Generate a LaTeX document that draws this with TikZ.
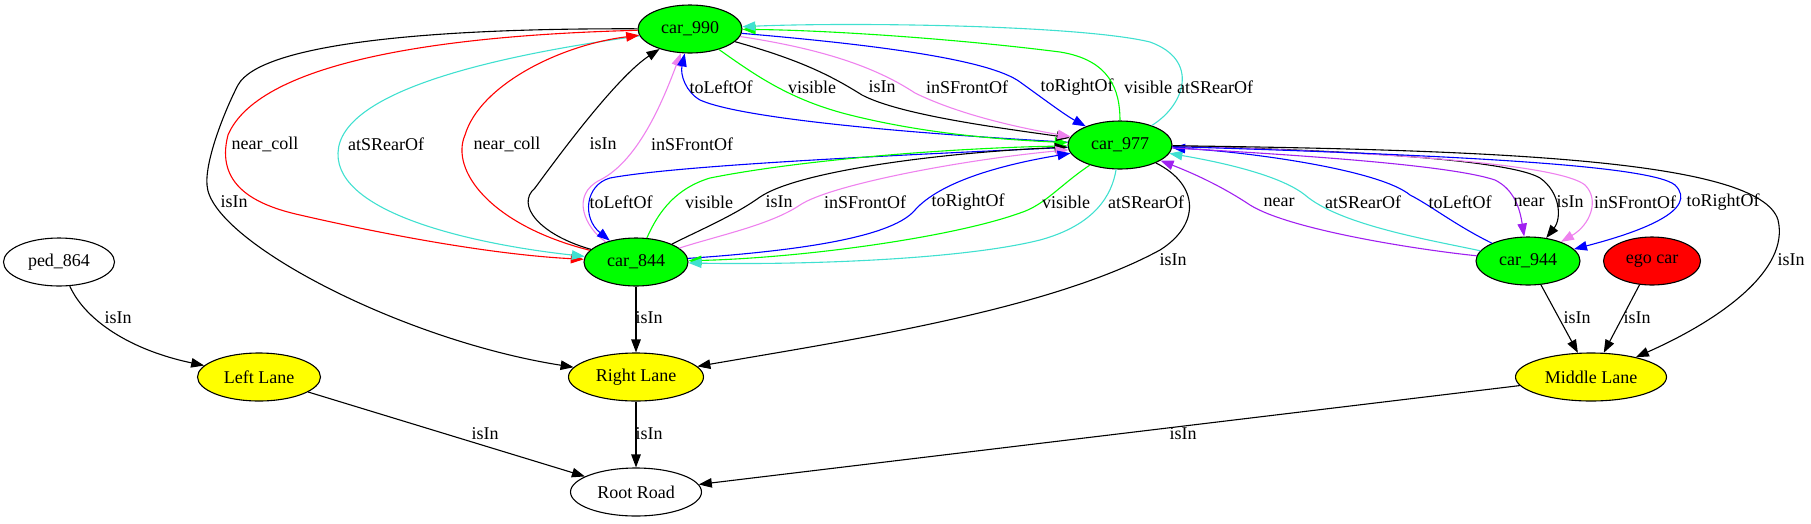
\documentclass[tikz,border=0pt]{standalone}
\usepackage{fontspec}
\setmainfont{Liberation Serif}
\usetikzlibrary{shapes.geometric, arrows.meta}
\definecolor{cargreen}{HTML}{00FF00}
\definecolor{laneyellow}{HTML}{FFFF00}
\definecolor{egored}{HTML}{FF0000}
\definecolor{relred}{HTML}{FF0000}
\definecolor{relblue}{HTML}{0000FF}
\definecolor{relgreen}{HTML}{00FF00}
\definecolor{relviolet}{HTML}{EE82EE}
\definecolor{relturq}{HTML}{40E0D0}
\definecolor{relpurple}{HTML}{A020F0}

\tikzset{
  obj/.style={ellipse, draw, line width=1.1pt, inner sep=0pt, minimum height=48pt,
    font=\fontsize{18}{20}\selectfont},
  car/.style={obj, fill=cargreen, minimum width=104pt},
  lane/.style={obj, fill=laneyellow},
  rel/.style={-{Triangle[length=13pt,width=9.5pt]}, line width=1.1pt},
  lbl/.style={inner sep=0pt, font=\fontsize{18}{20}\selectfont},
}

\begin{document}
\begin{tikzpicture}[x=1pt, y=-1pt]
  \useasboundingbox (0,0) rectangle (1811,523);

  % objects
  \node[car] (car990) at (690,29) {car\_990};
  \node[car] (car977) at (1120,145) {car\_977};
  \node[car] (car844) at (636,262) {car\_844};
  \node[car] (car944) at (1528,261) {car\_944};
  \node[obj, fill=egored, minimum width=97pt] (egocar) at (1652,261) {ego car};
  \node[obj, minimum width=111pt] (ped864) at (59,262) {ped\_864};
  \node[lane, minimum width=123pt] (leftlane) at (259,377) {Left Lane};
  \node[lane, minimum width=135pt] (rightlane) at (636,377) {Right Lane};
  \node[lane, minimum width=151pt] (middlelane) at (1591,377) {Middle Lane};
  \node[obj, minimum width=131pt] (rootroad) at (636,492) {Root Road};

  % car_990 <-> car_844
  \draw[rel] (car990) .. controls (420,28) and (260,45) .. (238,85) .. controls (225,110) and (205,160) .. (207,185) .. controls (210,240) and (400,340) .. (rightlane) node[lbl, at={(234,202)}] {isIn};
  \draw[rel, relred] (car990) .. controls (450,35) and (260,60) .. (228,135) .. controls (215,185) and (255,205) .. (300,215) .. controls (400,238) and (500,255) .. (car844) node[lbl, text=black, at={(265,144)}] {near\_coll};
  \draw[rel, relturq] (car990) .. controls (500,55) and (340,90) .. (338,153) .. controls (336,215) and (480,245) .. (car844) node[lbl, text=black, at={(386,144)}] {atSRearOf};
  \draw[rel, relred] (car844) .. controls (490,225) and (450,170) .. (465,135) .. controls (480,85) and (560,45) .. (car990) node[lbl, text=black, at={(507,144)}] {near\_coll};
  \draw[rel] (car844) .. controls (540,235) and (515,205) .. (535,188) .. controls (570,140) and (620,75) .. (car990) node[lbl, at={(603,144)}] {isIn};
  \draw[rel, relviolet] (car844) .. controls (585,228) and (570,195) .. (600,180) .. controls (640,160) and (665,95) .. (car990) node[lbl, text=black, at={(692,144)}] {inSFrontOf};

  % car_990 <-> car_977
  \draw[rel, relblue] (car977) .. controls (900,133) and (740,118) .. (700,100) .. controls (686,92) and (680,75) .. (car990) node[lbl, text=black, at={(721,87)}] {toLeftOf};
  \draw[rel, relgreen] (car990) .. controls (755,75) and (790,100) .. (850,115) .. controls (930,135) and (1010,140) .. (car977) node[lbl, text=black, at={(812,87)}] {visible};
  \draw[rel] (car990) .. controls (800,60) and (830,75) .. (862,95) .. controls (900,115) and (1000,128) .. (car977) node[lbl, at={(882,87)}] {isIn};
  \draw[rel, relviolet] (car990) .. controls (830,50) and (880,70) .. (915,93) .. controls (960,115) and (1020,128) .. (car977) node[lbl, text=black, at={(967,87)}] {inSFrontOf};
  \draw[rel, relblue] (car990) .. controls (880,45) and (990,60) .. (1020,82) .. controls (1045,100) and (1065,115) .. (car977) node[lbl, text=black, at={(1077,87)}] {toRightOf};
  \draw[rel, relgreen] (car977) .. controls (1120,90) and (1110,60) .. (1060,52) .. controls (950,38) and (820,30) .. (car990) node[lbl, text=black, at={(1148,87)}] {visible};
  \draw[rel, relturq] (car977) .. controls (1185,105) and (1200,60) .. (1150,42) .. controls (1080,25) and (850,22) .. (car990) node[lbl, text=black, at={(1215,87)}] {atSRearOf};

  % car_844 <-> car_977
  \draw[rel, relblue] (car977) .. controls (900,155) and (680,165) .. (610,178) .. controls (585,185) and (582,218) .. (car844) node[lbl, text=black, at={(621,202)}] {toLeftOf};
  \draw[rel, relgreen] (car844) .. controls (655,220) and (670,190) .. (710,178) .. controls (800,160) and (950,148) .. (car977) node[lbl, text=black, at={(709,202)}] {visible};
  \draw[rel] (car844) .. controls (700,230) and (735,215) .. (760,197) .. controls (800,170) and (950,152) .. (car977) node[lbl, at={(779,202)}] {isIn};
  \draw[rel, relviolet] (car844) .. controls (720,235) and (770,225) .. (800,205) .. controls (830,185) and (960,160) .. (car977) node[lbl, text=black, at={(865,202)}] {inSFrontOf};
  \draw[rel, relblue] (car844) .. controls (780,252) and (890,240) .. (915,210) .. controls (940,182) and (1000,165) .. (car977) node[lbl, text=black, at={(968,202)}] {toRightOf};
  \draw[rel, relgreen] (car977) .. controls (1060,185) and (1045,205) .. (1020,213) .. controls (950,238) and (800,258) .. (car844) node[lbl, text=black, at={(1066,202)}] {visible};
  \draw[rel, relturq] (car977) .. controls (1112,195) and (1095,225) .. (1040,240) .. controls (960,260) and (800,265) .. (car844) node[lbl, text=black, at={(1146,202)}] {atSRearOf};
  \draw[rel] (car977) .. controls (1200,185) and (1200,225) .. (1160,250) .. controls (1050,310) and (850,340) .. (rightlane) node[lbl, at={(1173,260)}] {isIn};

  % car_977 <-> car_944
  \draw[rel, relpurple] (car944) .. controls (1420,250) and (1290,230) .. (1250,205) .. controls (1220,185) and (1190,172) .. (car977) node[lbl, text=black, at={(1279,202)}] {near};
  \draw[rel, relturq] (car944) .. controls (1430,240) and (1340,225) .. (1305,195) .. controls (1280,175) and (1220,162) .. (car977) node[lbl, text=black, at={(1363,202)}] {atSRearOf};
  \draw[rel, relblue] (car944) .. controls (1455,225) and (1430,205) .. (1410,195) .. controls (1380,170) and (1250,152) .. (car977) node[lbl, text=black, at={(1460,202)}] {toLeftOf};
  \draw[rel, relpurple] (car977) .. controls (1300,155) and (1450,165) .. (1495,180) .. controls (1515,190) and (1520,210) .. (car944) node[lbl, text=black, at={(1529,202)}] {near};
  \draw[rel] (car977) .. controls (1350,150) and (1510,160) .. (1540,178) .. controls (1560,192) and (1562,218) .. (car944) node[lbl, at={(1570,202)}] {isIn};
  \draw[rel, relviolet] (car977) .. controls (1400,152) and (1560,165) .. (1585,185) .. controls (1600,200) and (1590,225) .. (car944) node[lbl, text=black, at={(1635,202)}] {inSFrontOf};
  \draw[rel, relblue] (car977) .. controls (1450,155) and (1650,165) .. (1675,185) .. controls (1700,210) and (1640,232) .. (car944) node[lbl, text=black, at={(1723,202)}] {toRightOf};
  \draw[rel] (car977) .. controls (1500,150) and (1760,160) .. (1778,220) .. controls (1790,270) and (1720,320) .. (middlelane) node[lbl, at={(1791,260)}] {isIn};

  % lanes and road
  \draw[rel] (car944) -- (middlelane) node[lbl, at={(1577,318)}] {isIn};
  \draw[rel] (egocar) -- (middlelane) node[lbl, at={(1637,318)}] {isIn};
  \draw[rel] (car844) -- (rightlane) node[lbl, at={(649,318)}] {isIn};
  \draw[rel] (ped864) .. controls (85,320) and (130,350) .. (leftlane) node[lbl, at={(118,318)}] {isIn};
  \draw[rel] (leftlane) -- (rootroad) node[lbl, at={(485,434)}] {isIn};
  \draw[rel] (rightlane) -- (rootroad) node[lbl, at={(649,434)}] {isIn};
  \draw[rel] (middlelane) -- (rootroad) node[lbl, at={(1183,434)}] {isIn};
\end{tikzpicture}
\end{document}
